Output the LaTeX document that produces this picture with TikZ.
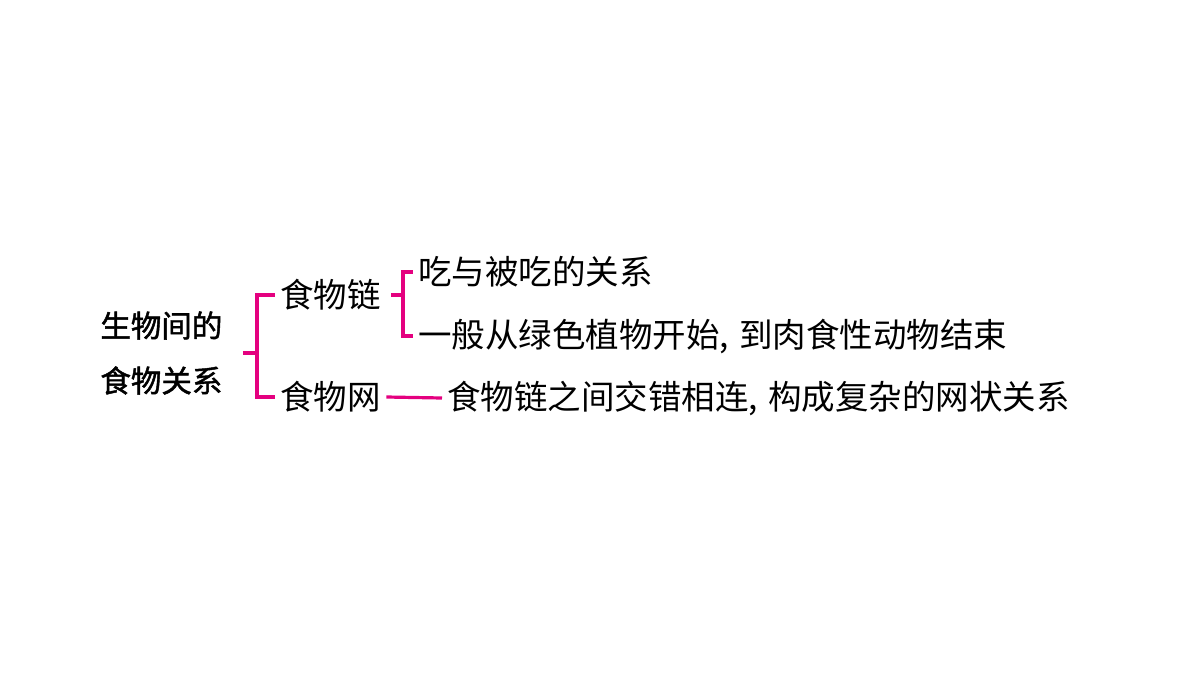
\documentclass[tikz,border=0pt]{standalone}
\usepackage{fontspec}
\newfontfamily\cjk{Noto Sans CJK SC}
\newfontfamily\cjkhead[FakeBold=1.5]{Noto Sans CJK SC}
\definecolor{rose}{HTML}{E4007F}
\begin{document}
\begin{tikzpicture}[x=0.5pt, y=-0.5pt,
  brace/.style={draw=rose, line width=1.6pt},
  item/.style={anchor=west, inner xsep=2.5pt, inner ysep=0pt, font=\cjk\fontsize{16.75}{20}\selectfont},
  head/.style={anchor=west, inner sep=0pt, align=left, font=\cjkhead\fontsize{15.25}{27.5}\selectfont}]
\useasboundingbox (0,0) rectangle (1200,675);
\node (topic) at (100,353) [head] {生物间的\\食物关系};
\node (chain) at (275,295) [item] {食物链};
\node (web) at (275,397) [item] {食物网};
\node (eat) at (413,272) [item] {吃与被吃的关系};
\node (start) at (413,336) [item] {一般从绿色植物开始,\hspace{5pt}到肉食性动物结束};
\node (cross) at (442,398) [item] {食物链之间交错相连,\hspace{5pt}构成复杂的网状关系};
\coordinate (fork) at (257,353);
\coordinate (split) at (403,295);
\draw[brace] ([xshift=10pt]topic.east) -- (fork) |- (chain.west);
\draw[brace] (fork) |- (web.west);
\draw[brace] ([xshift=2.5pt]chain.east) -- (split) |- (eat.west);
\draw[brace] (split) |- (start.west);
\draw[brace] (web.east) -- (cross.west);
\end{tikzpicture}
\end{document}
